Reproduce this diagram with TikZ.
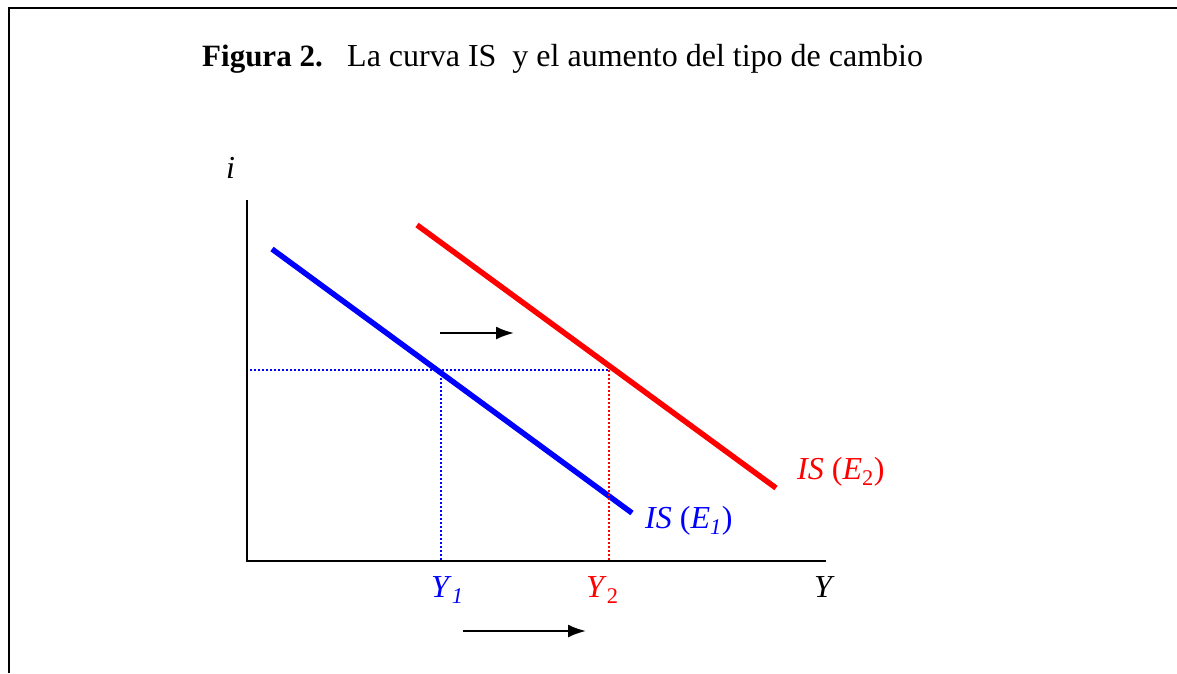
\documentclass[tikz,border=0pt]{standalone}
\usepackage{fontspec}
\setmainfont{Liberation Serif}
\usepackage{xcolor}
\usetikzlibrary{arrows.meta, positioning}
\definecolor{isblue}{RGB}{0, 0, 255}
\definecolor{isred}{RGB}{255, 0, 0}

\begin{document}
\begin{tikzpicture}[
    x=1pt, y=-1pt,
    txt/.style={inner sep=0pt, anchor=base west, font=\fontsize{32}{38}\selectfont},
    frameline/.style={draw, line width=2.2pt},
    axisline/.style={draw, line width=1.8pt},
    isline/.style={draw, line width=5.5pt},
    guide/.style={draw, line width=1.5pt, dash pattern=on 1.5pt off 2.5pt},
    shiftarrow/.style={draw, line width=2.2pt, -{Latex[length=18pt, width=13pt]}}
]
\useasboundingbox (0,0) rectangle (1177,673);

% Frame
\coordinate (fbot) at (9,673);
\coordinate (fcorner) at (9,8);
\coordinate (fright) at (1177,8);
\path [frameline] (fbot) -- (fcorner) -- (fright);

% Title
\node [txt, font=\fontsize{31}{38}\selectfont] (fig) at (202,66.5) {\textbf{Figura 2.}};
\node [txt] (title) at (347,66.5) {La curva IS\ \ y el aumento del tipo de cambio};

% Axes
\coordinate (top) at (247,200);
\coordinate (origin) at (247,561);
\coordinate (right) at (826,561);
\path [axisline] (top) -- (origin) -- (right);
\node [txt] (ilab) at (226,178) {\textit{i}};
\node [txt] (ylab) at (814,597) {\textit{Y}};

% IS curves
\coordinate (b1) at (272,249);
\coordinate (b2) at (632,513);
\coordinate (r1) at (417,225);
\coordinate (r2) at (776,488);
\path [isline, isblue] (b1) -- (b2);
\path [isline, isred] (r1) -- (r2);
\node [txt, text=isblue] (is1) at (645,528) {\textit{IS} (\textit{E}\textsubscript{\textit{1}})};
\node [txt, text=isred] (is2) at (797,479) {\textit{IS} (\textit{E}\textsubscript{2})};

% Equilibria
\coordinate (e1) at (441,370);
\coordinate (e2) at (609,370);
\coordinate (y1) at (441,561);
\coordinate (y2) at (609,561);
\coordinate (ia) at (250,370);
\path [guide, isblue] (ia) -- (e2);
\path [guide, isblue] (e1) -- (y1);
\path [guide, isred] (e2) -- (y2);
\node [txt, text=isblue] (y1lab) at (431,597) {\textit{Y}\textsubscript{\textit{1}}};
\node [txt, text=isred] (y2lab) at (586,597) {\textit{Y}\textsubscript{2}};

% Shifts
\coordinate (sa) at (440,333);
\coordinate (sb) at (514,333);
\coordinate (ta) at (463,631);
\coordinate (tb) at (586,631);
\path [shiftarrow] (sa) -- (sb);
\path [shiftarrow] (ta) -- (tb);

\end{tikzpicture}
\end{document}
